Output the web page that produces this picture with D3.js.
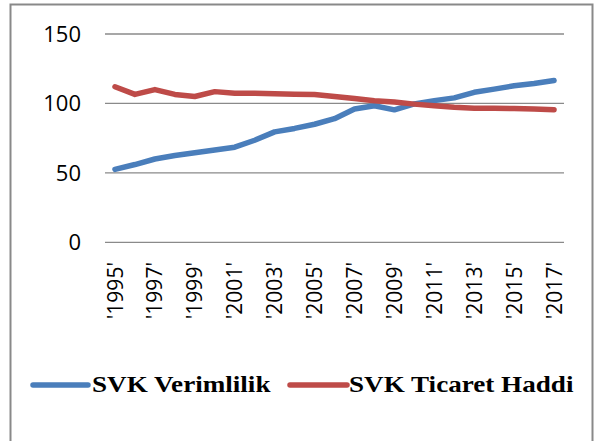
<!DOCTYPE html>
<html>
<head>
<meta charset="utf-8">
<script src="https://cdn.jsdelivr.net/npm/d3@7"></script>
<style>
  html, body { margin: 0; padding: 0; background: #fff; }
  svg { display: block; }
</style>
</head>
<body>
<svg id="chart" width="598" height="441"></svg>
<script>
const years = ["1995","1996","1997","1998","1999","2000","2001","2002","2003","2004","2005","2006",
               "2007","2008","2009","2010","2011","2012","2013","2014","2015","2016","2017"];
const verimlilik = [52.5, 56, 60, 62.5, 64.5, 66.5, 68.5, 73.5, 79.5, 82, 85, 89,
                    96, 98.3, 95.4, 99.7, 102, 104, 108, 110.3, 112.7, 114.4, 116.5];
const ticaretHaddi = [112, 106.5, 110, 106.5, 105, 108.5, 107.3, 107.3, 107, 106.6, 106.4, 105,
                      103.5, 102, 101, 99.5, 98.3, 97.2, 96.6, 96.5, 96.3, 96, 95.5];
const yTicks = [0, 50, 100, 150];
const seriesNames = ["SVK Verimlilik", "SVK Ticaret Haddi"];
const seriesColors = ["#4a7ebb", "#be4b48"];

const svg = d3.select("#chart");

// outer frame
svg.append("rect")
  .attr("x", 10.5).attr("y", 4.5)
  .attr("width", 582).attr("height", 450)
  .attr("fill", "none").attr("stroke", "#898989").attr("stroke-width", 2);

const x = d3.scaleBand().domain(years).range([105, 564]);
const y = d3.scaleLinear().domain([0, 150]).range([242.3, 34]);

// gridlines
svg.append("g").selectAll("line").data(yTicks).join("line")
  .attr("x1", 105).attr("x2", 564)
  .attr("y1", d => y(d)).attr("y2", d => y(d))
  .attr("stroke", "#8a8a8a").attr("stroke-width", 1.3);

// y axis labels
svg.append("g").selectAll("text").data(yTicks).join("text")
  .attr("x", 81).attr("y", d => y(d))
  .attr("dy", "0.36em")
  .attr("text-anchor", "end")
  .style("font-family", '"Open Sans", sans-serif')
  .style("font-size", "22px")
  .attr("fill", "#000")
  .text(d => d);

// x axis labels (every other year), rotated
const labelYears = years.filter((d, i) => i % 2 === 0);
svg.append("g").selectAll("text").data(labelYears).join("text")
  .attr("transform", d => `translate(${x(d) + x.bandwidth() / 2},262) rotate(-90)`)
  .attr("dy", "0.36em")
  .attr("text-anchor", "end")
  .style("font-family", '"Open Sans", sans-serif')
  .style("font-size", "21px")
  .attr("fill", "#000")
  .text(d => "'" + d + "'");

// lines
const line = d3.line()
  .x((d, i) => x(years[i]) + x.bandwidth() / 2)
  .y(d => y(d));

[verimlilik, ticaretHaddi].forEach((vals, k) => {
  svg.append("path")
    .datum(vals)
    .attr("d", line)
    .attr("fill", "none")
    .attr("stroke", seriesColors[k])
    .attr("stroke-width", 5.5)
    .attr("stroke-linecap", "round")
    .attr("stroke-linejoin", "round");
});

// legend
const legend = [
  { x1: 33, x2: 88, tx: 92 },
  { x1: 290, x2: 347, tx: 349 }
];
legend.forEach((L, k) => {
  svg.append("line")
    .attr("x1", L.x1).attr("x2", L.x2).attr("y1", 385).attr("y2", 385)
    .attr("stroke", seriesColors[k]).attr("stroke-width", 5.5)
    .attr("stroke-linecap", "round");
  svg.append("text")
    .attr("transform", `translate(${L.tx},392) scale(1.13,1)`)
    .style("font-family", '"Liberation Serif", serif')
    .style("font-weight", "bold")
    .style("font-size", "24px")
    .attr("fill", "#000")
    .text(seriesNames[k]);
});
</script>
</body>
</html>
